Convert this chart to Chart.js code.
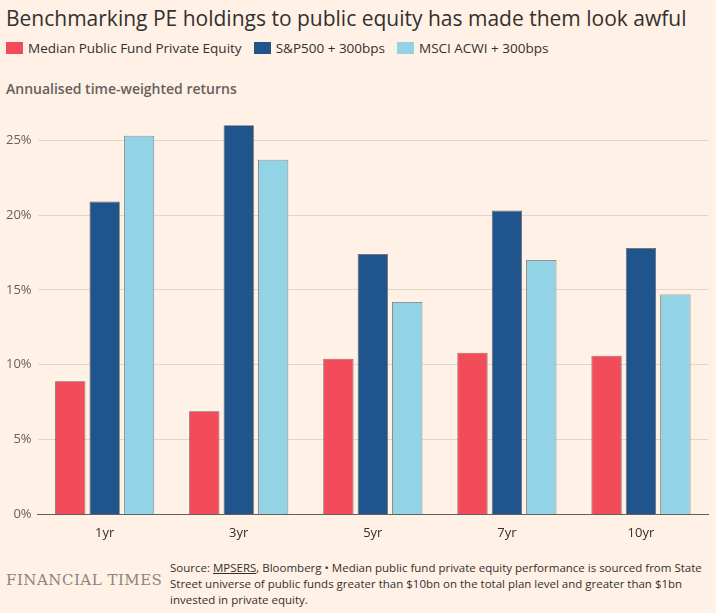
<!DOCTYPE html>
<html>
<head>
<meta charset="utf-8">
<script src="https://cdn.jsdelivr.net/npm/chart.js@4"></script>
<style>
  body { margin: 0; background: #FFF1E5; font-family: 'Open Sans', sans-serif; color: #33302e; }
  .wrap { width: 716px; height: 613px; position: relative; }
  h1 { font-size: 21px; font-weight: 400; margin: 0; position: absolute; left: 6px; top: 4px; color: #33302e; }
  .legend { position: absolute; left: 6px; top: 39px; font-size: 13.5px; display: flex; gap: 12px; }
  .legend span i { display: inline-block; width: 17px; height: 12px; margin-right: 5px; vertical-align: -1px; }
  .sub { position: absolute; left: 6px; top: 79px; font-size: 14px; font-weight: 600; color: #66605c; }
  .chart { position: absolute; left: 0; top: 104px; width: 712px; height: 440px; }
  .ft { position: absolute; left: 6px; top: 571px; font-family: 'DejaVu Serif', serif; font-size: 15px; color: #8a8580; letter-spacing: 0.5px; }
  .src { position: absolute; left: 170px; top: 560px; width: 540px; font-size: 11.5px; line-height: 16px; color: #33302e; }
</style>
</head>
<body>
<div class="wrap">
  <h1>Benchmarking PE holdings to public equity has made them look awful</h1>
  <div class="legend">
    <span><i style="background:#F24B5A"></i>Median Public Fund Private Equity</span>
    <span><i style="background:#1F548C"></i>S&amp;P500 + 300bps</span>
    <span><i style="background:#93D3E6"></i>MSCI ACWI + 300bps</span>
  </div>
  <div class="sub">Annualised time-weighted returns</div>
  <div class="chart"><canvas id="c"></canvas></div>
  <div class="ft">FINANCIAL TIMES</div>
  <div class="src">Source: <u>MPSERS</u>, Bloomberg • Median public fund private equity performance is sourced from State Street universe of public funds greater than $10bn on the total plan level and greater than $1bn invested in private equity.</div>
</div>
<script>
const periods = ['1yr', '3yr', '5yr', '7yr', '10yr'];
const medianPE = [8.9, 6.9, 10.4, 10.8, 10.6];
const sp500 = [20.9, 26.0, 17.4, 20.3, 17.8];
const msciAcwi = [25.3, 23.7, 14.2, 17.0, 14.7];

const bar = (label, data, color) => ({
    label, data,
    backgroundColor: color,
    borderColor: '#66605c',
    borderWidth: 0.8,
    categoryPercentage: 0.77,
    barPercentage: 0.88
});

new Chart(document.getElementById('c'), {
    type: 'bar',
    data: {
        labels: periods,
        datasets: [
            bar('Median Public Fund Private Equity', medianPE, '#F24B5A'),
            bar('S&P500 + 300bps', sp500, '#1F548C'),
            bar('MSCI ACWI + 300bps', msciAcwi, '#93D3E6')
        ]
    },
    options: {
        responsive: true,
        maintainAspectRatio: false,
        animation: false,
        layout: { padding: { top: 10, right: 4 } },
        plugins: { legend: { display: false }, tooltip: { enabled: false } },
        scales: {
            y: {
                min: 0, max: 26.5,
                afterBuildTicks: axis => { axis.ticks = [0, 5, 10, 15, 20, 25].map(v => ({ value: v })); },
                grid: { color: ctx => ctx.tick.value === 0 ? '#66605c' : '#e0d6cc', drawTicks: false },
                border: { display: false },
                ticks: { callback: v => v + '%', color: '#66605c', font: { size: 13, family: 'Open Sans' }, padding: 6 }
            },
            x: {
                grid: { display: false },
                border: { color: '#66605c' },
                ticks: { color: '#33302e', font: { size: 13, family: 'Open Sans' } }
            }
        }
    }
});
</script>
</body>
</html>
